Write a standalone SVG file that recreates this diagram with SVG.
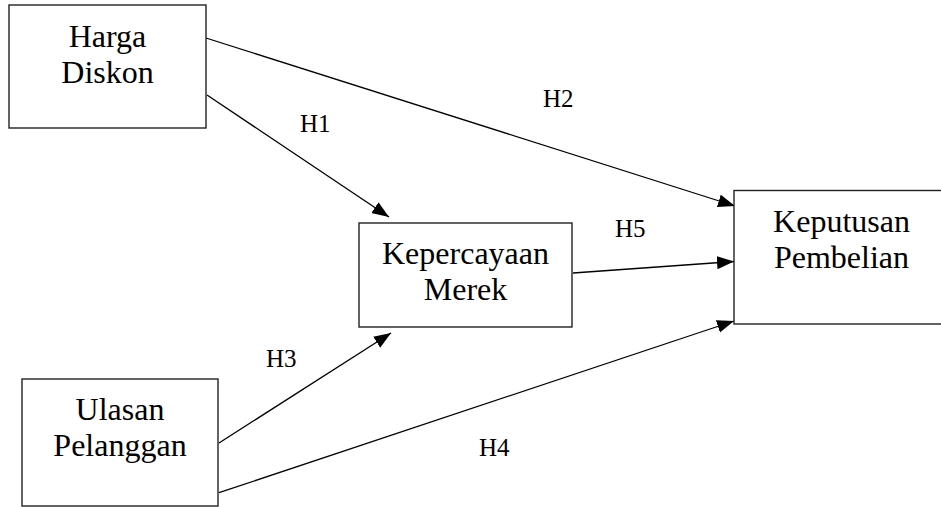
<svg xmlns="http://www.w3.org/2000/svg" width="941" height="507" viewBox="0 0 941 507">
<style>
.box{fill:#fff;stroke:#222;stroke-width:1.4}
.t{font-family:'Liberation Serif','Times New Roman',serif;font-size:32px;fill:#000;text-anchor:middle}
.h{font-family:'Liberation Serif','Times New Roman',serif;font-size:25px;fill:#000}
.c{stroke:#000;stroke-width:1.3;fill:none;marker-end:url(#ah)}
</style>
<defs>
<marker id="ah" markerUnits="userSpaceOnUse" markerWidth="18" markerHeight="14" refX="17" refY="6.5" orient="auto">
<path d="M0,0 L17,6.5 L0,13 z" fill="#000"/>
</marker>
</defs>
<rect width="941" height="507" fill="#fff"/>
<g id="connectors">
<line class="c" x1="206" y1="38" x2="735" y2="206"/>
<line class="c" x1="207" y1="95" x2="389" y2="217"/>
<line class="c" x1="573" y1="273" x2="734" y2="261.5"/>
<line class="c" x1="219" y1="443" x2="391" y2="333"/>
<line class="c" x1="219" y1="492.7" x2="734" y2="321"/>
<text class="h" x="300" y="132">H1</text>
<text class="h" x="543" y="107">H2</text>
<text class="h" x="266" y="367">H3</text>
<text class="h" x="479" y="456">H4</text>
<text class="h" x="615" y="237">H5</text>
</g>
<g id="harga">
<rect class="box" x="9" y="5" width="197" height="123"/>
<text class="t" x="107.5" y="47">Harga</text>
<text class="t" x="107.5" y="83">Diskon</text>
</g>
<g id="kepercayaan">
<rect class="box" x="359" y="223" width="213" height="104"/>
<text class="t" x="465.5" y="264">Kepercayaan</text>
<text class="t" x="465.5" y="300">Merek</text>
</g>
<g id="keputusan">
<rect class="box" x="734" y="190.5" width="216" height="133.5"/>
<text class="t" x="841.5" y="232">Keputusan</text>
<text class="t" x="841.5" y="268">Pembelian</text>
</g>
<g id="ulasan">
<rect class="box" x="22" y="379" width="196" height="127"/>
<text class="t" x="120" y="420">Ulasan</text>
<text class="t" x="120" y="456">Pelanggan</text>
</g>
</svg>
